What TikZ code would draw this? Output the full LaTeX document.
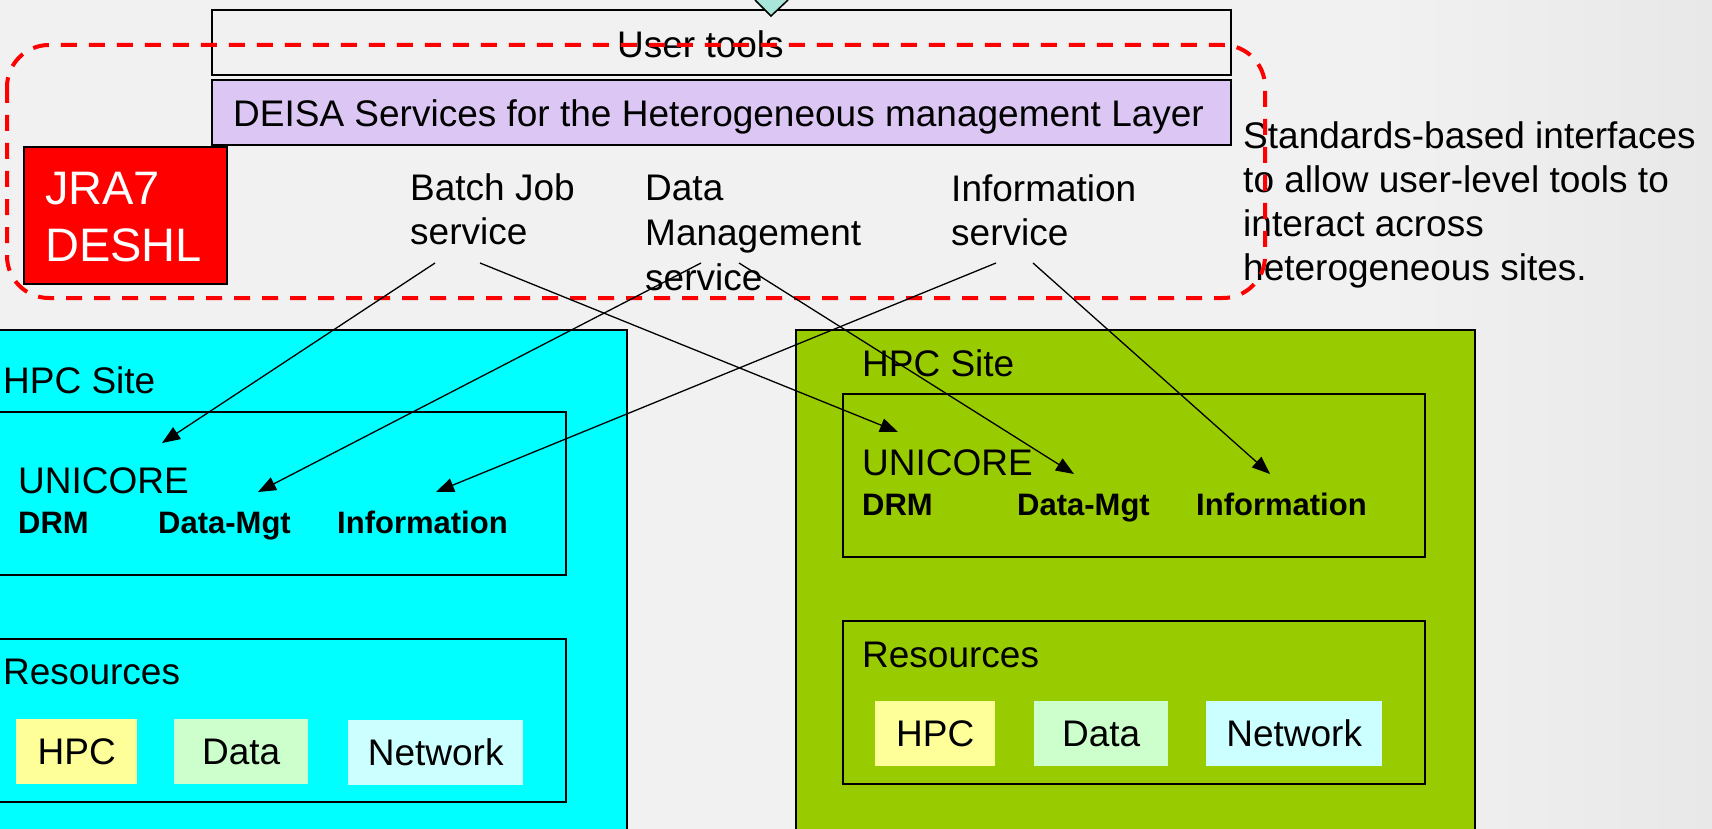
\documentclass[tikz,border=0pt]{standalone}
\usepackage{fontspec}
\setmainfont{Liberation Sans}
\usetikzlibrary{arrows.meta, positioning}

\definecolor{pagebg}{HTML}{F1F1F1}
\definecolor{toolcol}{HTML}{A8E6DA}
\definecolor{deisacol}{HTML}{DCC6F4}
\definecolor{sitecyan}{HTML}{00FFFF}
\definecolor{sitegreen}{HTML}{99CC00}
\definecolor{hpccol}{HTML}{FFFF99}
\definecolor{datacol}{HTML}{CCFFCC}
\definecolor{netcol}{HTML}{CCFFFF}

\begin{document}
\begin{tikzpicture}[x=1pt, y=-1pt,
    every node/.style={inner sep=0pt, font=\fontsize{37}{44}\selectfont},
    frame/.style={draw, line width=2pt, anchor=north west},
    txt/.style={anchor=base west},
    multi/.style={anchor=north west, align=left},
    bold/.style={anchor=base west, font=\fontsize{31}{37}\selectfont\bfseries},
    res/.style={anchor=north west, minimum height=65pt},
    dashline/.style={draw=red, line width=4pt, dash pattern=on 16pt off 12pt, rounded corners=42pt},
    link/.style={-{Triangle[length=18pt,width=14pt]}, line width=1.3pt}]

  % page
  \fill[pagebg] (0,0) rectangle (1712,829);
  \shade[left color=pagebg, right color=gray!18] (1380,0) rectangle (1712,829);
  \useasboundingbox (0,0) rectangle (1712,829);

  % the two sites
  \node[frame, fill=sitecyan, minimum width=636pt, minimum height=510pt] (siteL) at (-10,329) {};
  \node[frame, fill=sitegreen, minimum width=679pt, minimum height=510pt] (siteR) at (795,329) {};
  \node[frame, minimum width=575pt, minimum height=163pt] (uniL) at (-10,411) {};
  \node[frame, minimum width=575pt, minimum height=163pt] (resL) at (-10,638) {};
  \node[frame, minimum width=582pt, minimum height=163pt] (uniR) at (842,393) {};
  \node[frame, minimum width=582pt, minimum height=163pt] (resR) at (842,620) {};

  % top layers
  \node[frame, minimum width=1019pt, minimum height=65pt] (tools) at (211,9) {};
  \draw[fill=toolcol, line width=1.5pt] (755,0) -- (771,16) -- (788,0);
  \node[frame, fill=deisacol, minimum width=1019pt, minimum height=65pt] (deisa) at (211,79) {};
  \node[frame, fill=red, minimum width=203pt, minimum height=137pt] (jra) at (23,146) {};

  \node[txt] (toolstext) at (617,58) {User tools};
  \node[txt] (deisatext) at (233,127) {DEISA Services for the Heterogeneous management Layer};
  \node[multi, text=white, font=\fontsize{47}{57}\selectfont] (jratext) at (45,172) {JRA7\\DESHL};

  % services
  \node[multi] (batch) at (410,173) {Batch Job\\service};
  \node[multi, font=\fontsize{37}{45}\selectfont] (datamgt) at (645,175) {Data\\Management\\service};
  \node[multi] (info) at (951,174) {Information\\service};
  \node[multi] (std) at (1243,121) {Standards-based interfaces\\to allow user-level tools to\\interact across\\heterogeneous sites.};

  % left site
  \node[txt] (siteLtext) at (3,393) {HPC Site};
  \node[txt] (uniLtext) at (18,493) {UNICORE};
  \node[bold] (drmL) at (18,533) {DRM};
  \node[bold] (dmL) at (158,533) {Data-Mgt};
  \node[bold] (infL) at (337,533) {Information};
  \node[txt] (resLtext) at (3,684) {Resources};
  \node[res, fill=hpccol, minimum width=121pt] (hpcL) at (16,719) {HPC};
  \node[res, fill=datacol, minimum width=134pt] (dataL) at (174,719) {Data};
  \node[res, fill=netcol, minimum width=175pt] (netL) at (348,720) {Network};

  % right site
  \node[txt] (siteRtext) at (862,376) {HPC Site};
  \node[txt] (uniRtext) at (862,475) {UNICORE};
  \node[bold] (drmR) at (862,515) {DRM};
  \node[bold] (dmR) at (1017,515) {Data-Mgt};
  \node[bold] (infR) at (1196,515) {Information};
  \node[txt] (resRtext) at (862,667) {Resources};
  \node[res, fill=hpccol, minimum width=120pt] (hpcR) at (875,701) {HPC};
  \node[res, fill=datacol, minimum width=134pt] (dataR) at (1034,701) {Data};
  \node[res, fill=netcol, minimum width=176pt] (netR) at (1206,701) {Network};

  % JRA7 scope
  \draw[dashline] (7,45) rectangle (1265,298);

  % links
  \coordinate (batch-a) at (435,263);
  \coordinate (batch-b) at (480,263);
  \coordinate (dm-a) at (701,263);
  \coordinate (dm-b) at (739,263);
  \coordinate (info-a) at (996,263);
  \coordinate (info-b) at (1033,263);
  \coordinate (drmL-in) at (162,443);
  \coordinate (dmL-in) at (258,492);
  \coordinate (infL-in) at (436,492);
  \coordinate (drmR-in) at (898,432);
  \coordinate (dmR-in) at (1074,474);
  \coordinate (infR-in) at (1270,474);

  \draw[link] (batch-a) -- (drmL-in);
  \draw[link] (batch-b) -- (drmR-in);
  \draw[link] (dm-a) -- (dmL-in);
  \draw[link] (dm-b) -- (dmR-in);
  \draw[link] (info-a) -- (infL-in);
  \draw[link] (info-b) -- (infR-in);
\end{tikzpicture}
\end{document}
